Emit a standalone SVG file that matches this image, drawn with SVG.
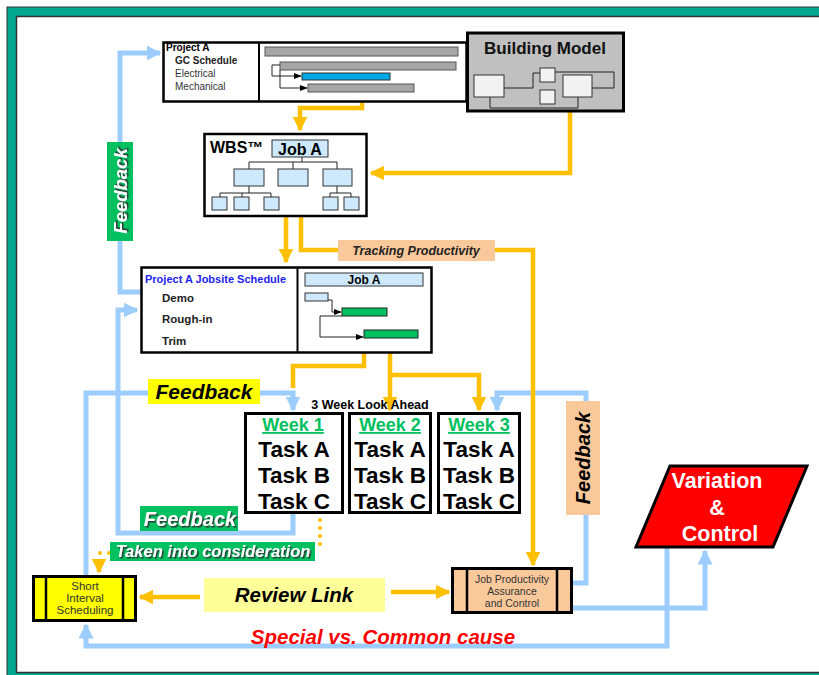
<svg xmlns="http://www.w3.org/2000/svg" width="819" height="675" viewBox="0 0 819 675">
<style>
text{font-family:"Liberation Sans",Arial,sans-serif}
.b{font-weight:bold}
.bi{font-weight:bold;font-style:italic}
.box{fill:#fff;stroke:#000;stroke-width:2.5}
.lb{fill:#cde9fb;stroke:#333;stroke-width:1}
.gray{fill:#a6a6a6;stroke:#555;stroke-width:1}
.grn{fill:#00c060;stroke:#222;stroke-width:1}
.thin{fill:none;stroke:#222;stroke-width:1}
.y{fill:none;stroke:#ffc000;stroke-width:4.5}
.bl{fill:none;stroke:#9dcdfc;stroke-width:5}
.wk{fill:#fff;stroke:#000;stroke-width:3}
.task{font-size:22.5px;font-weight:bold}
.wt{font-size:18px;font-weight:bold;fill:#00c060;text-decoration:underline}
</style>
<defs>
<marker id="ya" viewBox="0 0 10 10" refX="9" refY="5" markerWidth="3.2" markerHeight="3.2" orient="auto" markerUnits="strokeWidth"><path d="M0,0 L10,5 L0,10 z" fill="#ffc000"/></marker>
<marker id="ba" viewBox="0 0 10 10" refX="9" refY="5" markerWidth="3" markerHeight="3" orient="auto" markerUnits="strokeWidth"><path d="M0,0 L10,5 L0,10 z" fill="#9dcdfc"/></marker>
<marker id="ka" viewBox="0 0 10 10" refX="9" refY="5" markerWidth="8" markerHeight="8" orient="auto" markerUnits="strokeWidth"><path d="M0,1 L10,5 L0,9 z" fill="#000"/></marker>
<filter id="sh" x="-10%" y="-10%" width="130%" height="130%"><feDropShadow dx="1.5" dy="1.5" stdDeviation="0.3" flood-color="#333" flood-opacity="0.9"/></filter>
</defs>

<!-- frame -->
<rect x="7" y="7" width="830" height="680" fill="#00a88f" stroke="#333" stroke-width="1"/>
<rect x="16.5" y="16.5" width="820" height="656" fill="#fff" stroke="#333" stroke-width="1.5"/>

<!-- connectors -->
<g id="connectors">
<path class="bl" d="M141 292 H120 V53 H160" marker-end="url(#ba)"/>
<path class="bl" d="M293 512 V533 H118 V310 H137" marker-end="url(#ba)"/>
<path class="bl" d="M86 576 V393 H293 V410" marker-end="url(#ba)"/>
<path class="bl" d="M572 583 H586 V393 H497 V410" marker-end="url(#ba)"/>
<path class="bl" d="M572 608 H705 V551" marker-end="url(#ba)"/>
<path class="bl" d="M667 547 V646 H86 V625" marker-end="url(#ba)"/>
<path class="y" d="M362 92 V108 H300 V130" marker-end="url(#ya)"/>
<path class="y" d="M570 111 V173 H371" marker-end="url(#ya)"/>
<path class="y" d="M286 216 V262" marker-end="url(#ya)"/>
<path class="y" d="M301 216 V250 H533 V565" marker-end="url(#ya)"/>
<path class="y" d="M364 353 V366 H293 V388"/>
<path class="y" d="M390 353 V410" marker-end="url(#ya)"/>
<path class="y" d="M390 375 H479 V410" marker-end="url(#ya)"/>
<path class="y" d="M200 597 H140" marker-end="url(#ya)"/>
<path class="y" d="M391 592 H449" marker-end="url(#ya)"/>
<path d="M320 520 V547" fill="none" stroke="#ffc000" stroke-width="4" stroke-linecap="round" stroke-dasharray="0 8"/>
<path d="M109 553 H99 V562" fill="none" stroke="#ffc000" stroke-width="4" stroke-linecap="round" stroke-dasharray="0 9"/>
<path d="M99 566 V572" class="y" marker-end="url(#ya)"/>
</g>

<!-- labels on connectors -->
<g id="label-feedback-left">
<rect x="107" y="142" width="26" height="99" fill="#00c060"/>
<text transform="translate(127,191) rotate(-90)" text-anchor="middle" class="bi" font-size="18.5" fill="#fff" filter="url(#sh)">Feedback</text>
</g>
<g id="label-tracking">
<rect x="338" y="240" width="157" height="21" fill="#fac99b"/>
<text x="416" y="255" text-anchor="middle" class="bi" font-size="12.5" fill="#222">Tracking Productivity</text>
</g>
<g id="label-feedback-yellow">
<rect x="148" y="379" width="112" height="25" fill="#ffff00"/>
<text x="204" y="399" text-anchor="middle" class="bi" font-size="21" fill="#000">Feedback</text>
</g>
<g id="label-feedback-green">
<rect x="140" y="506" width="98" height="25" fill="#00c060"/>
<text x="190" y="526" text-anchor="middle" class="bi" font-size="20" fill="#fff" filter="url(#sh)">Feedback</text>
</g>
<g id="label-taken">
<rect x="110" y="542" width="205" height="19" fill="#00c060"/>
<text x="213" y="557" text-anchor="middle" class="bi" font-size="16.5" fill="#fff" filter="url(#sh)">Taken into consideration</text>
</g>
<g id="label-feedback-peach">
<rect x="566" y="401" width="34" height="114" fill="#fac99b"/>
<text transform="translate(590,458) rotate(-90)" text-anchor="middle" class="bi" font-size="20" fill="#000">Feedback</text>
</g>
<g id="label-special">
<text x="383" y="644" text-anchor="middle" class="bi" font-size="20.5" fill="#ff0000">Special vs. Common cause</text>
</g>

<!-- GC schedule -->
<g id="gc-schedule">
<rect class="box" x="163.5" y="42.5" width="303" height="59"/>
<line x1="259" y1="42" x2="259" y2="102" stroke="#000" stroke-width="2"/>
<text x="166" y="51" class="b" font-size="10">Project A</text>
<text x="175" y="64" class="b" font-size="10" fill="#222">GC Schedule</text>
<text x="175" y="77" font-size="10" fill="#333">Electrical</text>
<text x="175" y="90" font-size="10" fill="#333">Mechanical</text>
<rect class="gray" x="265" y="47" width="193" height="9"/>
<rect class="gray" x="280" y="62" width="176" height="8"/>
<rect x="302" y="73" width="88" height="7" fill="#00a8e8" stroke="#333" stroke-width="1"/>
<rect class="gray" x="308" y="84" width="106" height="8"/>
<path class="thin" d="M280 65 H272 V76 H301" marker-end="url(#ka)"/>
<path class="thin" d="M280 70 V88 H307" marker-end="url(#ka)"/>
</g>

<!-- Building model -->
<g id="building-model">
<rect x="467.5" y="33" width="156" height="78" fill="#c0c0c0" stroke="#000" stroke-width="3"/>
<text x="545" y="54" text-anchor="middle" class="b" font-size="17" fill="#111">Building Model</text>
<path class="thin" stroke="#444" d="M504 88 H533 V73 H540 M555 72 H614 V88 H592 M490 97 V108 H578 V97"/>
<rect x="474" y="75" width="30" height="22" fill="#f2f2f2" stroke="#333"/>
<rect x="540" y="68" width="15" height="14" fill="#f2f2f2" stroke="#333"/>
<rect x="540" y="90" width="15" height="14" fill="#f2f2f2" stroke="#333"/>
<rect x="563" y="75" width="29" height="22" fill="#f2f2f2" stroke="#333"/>
</g>

<!-- WBS -->
<g id="wbs">
<rect class="box" x="204.5" y="134" width="162" height="82" stroke-width="3"/>
<text x="210" y="153" class="b" font-size="16">WBS™</text>
<rect class="lb" x="272" y="140" width="56" height="17"/>
<text x="300" y="155" text-anchor="middle" class="b" font-size="16">Job A</text>
<path class="thin" stroke="#444" d="M302 157 V162 H249 V169 M293 162 V169 M302 162 H337 V169 M249 186 V193 H220 V197 M242 193 V197 M249 193 H271 V197 M337 186 V193 H330 V197 M337 193 H351 V197"/>
<rect class="lb" x="234" y="169" width="30" height="17"/>
<rect class="lb" x="278" y="169" width="30" height="17"/>
<rect class="lb" x="323" y="169" width="29" height="17"/>
<rect class="lb" x="212" y="197" width="15" height="13"/>
<rect class="lb" x="234" y="197" width="15" height="13"/>
<rect class="lb" x="264" y="197" width="15" height="13"/>
<rect class="lb" x="323" y="197" width="15" height="13"/>
<rect class="lb" x="344" y="197" width="15" height="13"/>
</g>

<!-- Jobsite schedule -->
<g id="jobsite-schedule">
<rect class="box" x="141.5" y="267.5" width="290" height="85" stroke-width="3"/>
<line x1="297.5" y1="267" x2="297.5" y2="353" stroke="#000" stroke-width="2"/>
<text x="145" y="283" class="b" font-size="11" fill="#2222ee">Project A Jobsite Schedule</text>
<text x="162" y="302" class="b" font-size="11.5" fill="#222">Demo</text>
<text x="162" y="323" class="b" font-size="11.5" fill="#222">Rough-in</text>
<text x="162" y="345" class="b" font-size="11.5" fill="#222">Trim</text>
<rect class="lb" x="305" y="273" width="118" height="13"/>
<text x="364" y="284" text-anchor="middle" class="b" font-size="12">Job A</text>
<rect class="lb" x="305" y="293" width="23" height="8"/>
<rect class="grn" x="342" y="308" width="45" height="8"/>
<rect class="grn" x="364" y="330" width="54" height="8"/>
<path class="thin" d="M328 300 H332 V312 H341" marker-end="url(#ka)"/>
<path class="thin" d="M342 316 H320 V337 H363" marker-end="url(#ka)"/>
</g>

<!-- 3 week look ahead -->
<g id="look-ahead">
<text x="370" y="409" text-anchor="middle" class="b" font-size="12.5">3 Week Look Ahead</text>
</g>
<g id="week1">
<rect class="wk" x="245.5" y="413.5" width="97" height="99"/>
<text x="293" y="431" text-anchor="middle" class="wt">Week 1</text>
<text x="294" y="457" text-anchor="middle" class="task">Task A</text>
<text x="294" y="483" text-anchor="middle" class="task">Task B</text>
<text x="294" y="509" text-anchor="middle" class="task">Task C</text>
</g>
<g id="week2">
<rect class="wk" x="349.5" y="413.5" width="81" height="99"/>
<text x="390" y="431" text-anchor="middle" class="wt">Week 2</text>
<text x="390" y="457" text-anchor="middle" class="task">Task A</text>
<text x="390" y="483" text-anchor="middle" class="task">Task B</text>
<text x="390" y="509" text-anchor="middle" class="task">Task C</text>
</g>
<g id="week3">
<rect class="wk" x="438.5" y="413.5" width="81" height="99"/>
<text x="479" y="431" text-anchor="middle" class="wt">Week 3</text>
<text x="479" y="457" text-anchor="middle" class="task">Task A</text>
<text x="479" y="483" text-anchor="middle" class="task">Task B</text>
<text x="479" y="509" text-anchor="middle" class="task">Task C</text>
</g>

<!-- Short interval scheduling -->
<g id="sis">
<rect x="33.5" y="576.5" width="102" height="44" fill="#ffff00" stroke="#000" stroke-width="3"/>
<line x1="46" y1="576" x2="46" y2="621" stroke="#000" stroke-width="2.5"/>
<line x1="123" y1="576" x2="123" y2="621" stroke="#000" stroke-width="2.5"/>
<text x="85" y="590" text-anchor="middle" font-size="11.5" fill="#333">Short</text>
<text x="85" y="602" text-anchor="middle" font-size="11.5" fill="#333">Interval</text>
<text x="85" y="614" text-anchor="middle" font-size="11.5" fill="#333">Scheduling</text>
</g>

<!-- Review link -->
<g id="review-link">
<rect x="204" y="578" width="181" height="34" fill="#ffff99"/>
<text x="294" y="602" text-anchor="middle" class="bi" font-size="20.5">Review Link</text>
</g>

<!-- JPAC -->
<g id="jpac">
<rect x="452.5" y="568.5" width="119" height="44" fill="#fac99b" stroke="#000" stroke-width="3"/>
<line x1="467" y1="568" x2="467" y2="613" stroke="#000" stroke-width="2.5"/>
<line x1="557" y1="568" x2="557" y2="613" stroke="#000" stroke-width="2.5"/>
<text x="512" y="583" text-anchor="middle" font-size="10.5" fill="#333">Job Productivity</text>
<text x="512" y="595" text-anchor="middle" font-size="10.5" fill="#333">Assurance</text>
<text x="512" y="607" text-anchor="middle" font-size="10.5" fill="#333">and Control</text>
</g>

<!-- Variation & Control -->
<g id="variation">
<polygon points="670,466 807,466 773,547 636,547" fill="#ff0000" stroke="#000" stroke-width="3"/>
<text x="717" y="488" text-anchor="middle" class="b" font-size="21.5" fill="#fff">Variation</text>
<text x="717" y="515" text-anchor="middle" class="b" font-size="21.5" fill="#fff">&amp;</text>
<text x="720" y="541" text-anchor="middle" class="b" font-size="21.5" fill="#fff">Control</text>
</g>
</svg>
